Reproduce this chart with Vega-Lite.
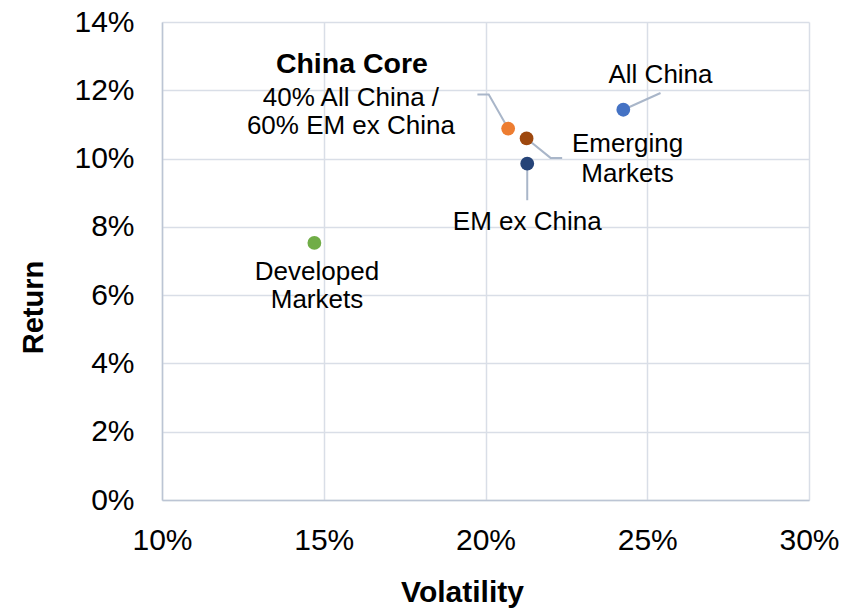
{
  "$schema": "https://vega.github.io/schema/vega-lite/v6.json",
  "width": 647,
  "height": 478,
  "autosize": "none",
  "padding": {"left": 162, "top": 22, "right": 34, "bottom": 113},
  "background": "white",
  "config": {
    "view": {"stroke": null},
    "font": "Liberation Sans",
    "axis": {
      "labelFont": "Liberation Sans",
      "titleFont": "Liberation Sans",
      "labelFontSize": 30,
      "titleFontWeight": "bold",
      "labelColor": "#000000",
      "titleColor": "#000000",
      "gridColor": "#D9DEE7",
      "gridWidth": 1.5,
      "domainColor": "#BCC5D4",
      "domainWidth": 1.5,
      "ticks": false
    }
  },
  "datasets": {
    "points": [
      {"name": "Developed Markets", "vol": 0.1471, "ret": 0.0753},
      {"name": "China Core", "vol": 0.2070, "ret": 0.1088},
      {"name": "Emerging Markets", "vol": 0.2127, "ret": 0.1059},
      {"name": "EM ex China", "vol": 0.2129, "ret": 0.0985},
      {"name": "All China", "vol": 0.2426, "ret": 0.1143}
    ],
    "leaders": [
      {"g": "All China", "o": 1, "vol": 0.2426, "ret": 0.1143},
      {"g": "All China", "o": 2, "vol": 0.2541, "ret": 0.1192},
      {"g": "Emerging", "o": 1, "vol": 0.2127, "ret": 0.1059},
      {"g": "Emerging", "o": 2, "vol": 0.2201, "ret": 0.1002},
      {"g": "Emerging", "o": 3, "vol": 0.2237, "ret": 0.1002},
      {"g": "EMx", "o": 1, "vol": 0.2129, "ret": 0.0985},
      {"g": "EMx", "o": 2, "vol": 0.2129, "ret": 0.0878},
      {"g": "Core", "o": 1, "vol": 0.2070, "ret": 0.1088},
      {"g": "Core", "o": 2, "vol": 0.2010, "ret": 0.1188},
      {"g": "Core", "o": 3, "vol": 0.1975, "ret": 0.1188}
    ],
    "labels": [
      {"text": "All China", "vol": 0.2541, "ret": 0.1244, "w": "normal"},
      {"text": "Emerging", "vol": 0.2439, "ret": 0.1042, "w": "normal"},
      {"text": "Markets", "vol": 0.2439, "ret": 0.0954, "w": "normal"},
      {"text": "EM ex China", "vol": 0.2129, "ret": 0.0815, "w": "normal"},
      {"text": "China Core", "vol": 0.1587, "ret": 0.1278, "w": "bold"},
      {"text": "40% All China /", "vol": 0.1584, "ret": 0.1177, "w": "normal"},
      {"text": "60% EM ex China", "vol": 0.1584, "ret": 0.1095, "w": "normal"},
      {"text": "Developed", "vol": 0.1479, "ret": 0.0667, "w": "normal"},
      {"text": "Markets", "vol": 0.1479, "ret": 0.0585, "w": "normal"}
    ]
  },
  "encoding": {
    "x": {
      "field": "vol", "type": "quantitative",
      "scale": {"domain": [0.1, 0.3], "nice": false, "zero": false},
      "axis": {
        "title": "Volatility",
        "titleFontSize": 30,
        "format": ".0%",
        "values": [0.1, 0.15, 0.2, 0.25, 0.3],
        "labelPadding": 25,
        "labelFlush": false,
        "titleX": 300,
        "titleY": 92,
        "titleBaseline": "middle",
        "titleAnchor": "middle",
        "titleAlign": "center"
      }
    },
    "y": {
      "field": "ret", "type": "quantitative",
      "scale": {"domain": [0, 0.14], "nice": false},
      "axis": {
        "title": "Return",
        "titleFontSize": 29,
        "format": ".0%",
        "values": [0, 0.02, 0.04, 0.06, 0.08, 0.1, 0.12, 0.14],
        "labelPadding": 28,
        "labelFlush": false,
        "titleX": -129,
        "titleY": 285,
        "titleBaseline": "middle",
        "titleAnchor": "middle",
        "titleAlign": "center",
        "titleAngle": -90
      }
    }
  },
  "layer": [
    {
      "data": {"name": "leaders"},
      "mark": {"type": "line", "color": "#A9B6C9", "strokeWidth": 2},
      "encoding": {
        "detail": {"field": "g"},
        "order": {"field": "o", "type": "quantitative"}
      }
    },
    {
      "data": {"name": "points"},
      "mark": {"type": "circle", "size": 190, "opacity": 1},
      "encoding": {
        "color": {
          "field": "name", "type": "nominal", "legend": null,
          "scale": {
            "domain": ["Developed Markets", "China Core", "Emerging Markets", "EM ex China", "All China"],
            "range": ["#70AD47", "#ED7D31", "#9E480E", "#264478", "#4472C4"]
          }
        }
      }
    },
    {
      "data": {"name": "labels"},
      "transform": [{"filter": "datum.w === 'normal'"}],
      "mark": {"type": "text", "fontSize": 26, "font": "Liberation Sans", "color": "#000000", "align": "center", "baseline": "middle"},
      "encoding": {
        "text": {"field": "text"}
      }
    },
    {
      "data": {"name": "labels"},
      "transform": [{"filter": "datum.w === 'bold'"}],
      "mark": {"type": "text", "fontSize": 28.5, "fontWeight": "bold", "font": "Liberation Sans", "color": "#000000", "align": "center", "baseline": "middle"},
      "encoding": {
        "text": {"field": "text"}
      }
    }
  ]
}
